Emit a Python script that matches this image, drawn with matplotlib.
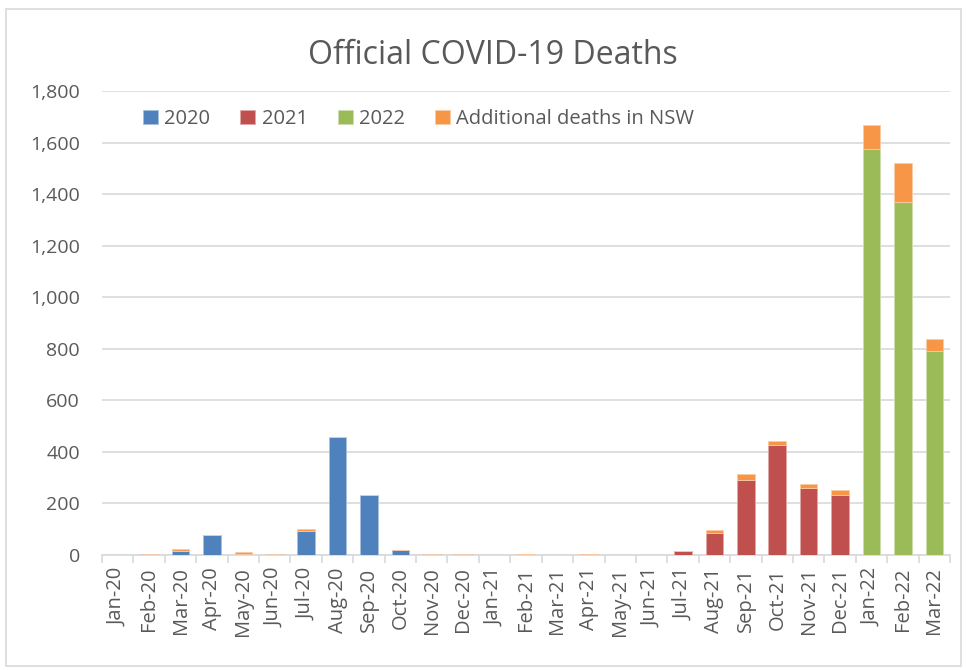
import matplotlib
matplotlib.use("Agg")
import matplotlib.pyplot as plt
import numpy as np
from matplotlib.patches import Rectangle

# month labels
months = ["Jan-20", "Feb-20", "Mar-20", "Apr-20", "May-20", "Jun-20", "Jul-20", "Aug-20",
          "Sep-20", "Oct-20", "Nov-20", "Dec-20", "Jan-21", "Feb-21", "Mar-21", "Apr-21",
          "May-21", "Jun-21", "Jul-21", "Aug-21", "Sep-21", "Oct-21", "Nov-21", "Dec-21",
          "Jan-22", "Feb-22", "Mar-22"]

# official deaths per month
deaths_2020 = [0, 3, 15, 76, 3, 3, 92, 459, 233, 20, 3, 3]
deaths_2021 = [0, 0, 0, 3, 0, 0, 16, 84, 290, 425, 260, 234]
deaths_2022 = [1576, 1371, 791]
# additional deaths in NSW, stacked on top
nsw_extra = [0, 0, 8, 0, 9, 0, 10, 0, 0, 0, 0, 0,
             0, 3, 0, 0, 0, 0, 0, 13, 23, 17, 14, 19,
             91, 148, 46]

C2020 = "#4F81BD"
C2021 = "#C0504D"
C2022 = "#9BBB59"
CNSW = "#F79646"
GRID = "#D9D9D9"
TXT = "#595959"

plt.rcParams['font.family'] = ['Open Sans', 'DejaVu Sans']

fig = plt.figure(figsize=(9.66, 6.7), dpi=100)
ax = fig.add_axes([102 / 966, 115 / 670, 848 / 966, 464 / 670])

x = np.arange(len(months))
w = 0.56
n20, n21 = len(deaths_2020), len(deaths_2021)
x20 = x[:n20]
x21 = x[n20:n20 + n21]
x22 = x[n20 + n21:]
base = np.array(deaths_2020 + deaths_2021 + deaths_2022)

ax.bar(x20, deaths_2020, w, color=C2020, edgecolor="#A7C0DE", linewidth=0.6, label="2020", zorder=3)
ax.bar(x21, deaths_2021, w, color=C2021, edgecolor="#E0A8A6", linewidth=0.6, label="2021", zorder=3)
ax.bar(x22, deaths_2022, w, color=C2022, edgecolor="#CDDDAC", linewidth=0.6, label="2022", zorder=3)
ax.bar(x, nsw_extra, w, bottom=base, color=CNSW, edgecolor="#FBCAA2", linewidth=0.6,
       label="Additional deaths in NSW", zorder=3)

ax.set_xlim(-0.5, len(months) - 0.5)
ax.set_ylim(0, 1800)
ax.set_yticks(np.arange(0, 1801, 200))
ax.set_yticklabels([f"{v:,}" for v in range(0, 1801, 200)])
ax.yaxis.grid(True, color=GRID, linewidth=1.2, zorder=0)
ax.set_axisbelow(True)

ax.set_xticks(x)
ax.set_xticklabels(months, rotation=90)
ax.set_xticks(np.arange(-0.5, len(months), 1), minor=True)
ax.tick_params(axis="x", which="major", length=0, pad=9, labelsize=14.5, colors=TXT)
ax.tick_params(axis="x", which="minor", length=6, width=1.2, color=GRID)
ax.tick_params(axis="y", length=0, pad=16, labelsize=14, colors=TXT)

for s in ["top", "right", "left"]:
    ax.spines[s].set_visible(False)
ax.spines["bottom"].set_color(GRID)
ax.spines["bottom"].set_linewidth(1.2)

fig.text(493 / 966, 1 - 55 / 670, "Official COVID-19 Deaths", ha="center", va="center",
         fontsize=23, color=TXT)

leg = ax.legend(loc="upper left", bbox_to_anchor=(0.027, 1.0), ncol=4, frameon=False,
                fontsize=14.5, handlelength=0.75, handleheight=0.75, handletextpad=0.3,
                columnspacing=1.5, labelcolor=TXT)

fig.patches.append(Rectangle((6 / 966, 4 / 670), 955 / 966, 657 / 670, transform=fig.transFigure,
                             fill=False, edgecolor=GRID, linewidth=1.2))

fig.savefig("out.png", dpi=100)
